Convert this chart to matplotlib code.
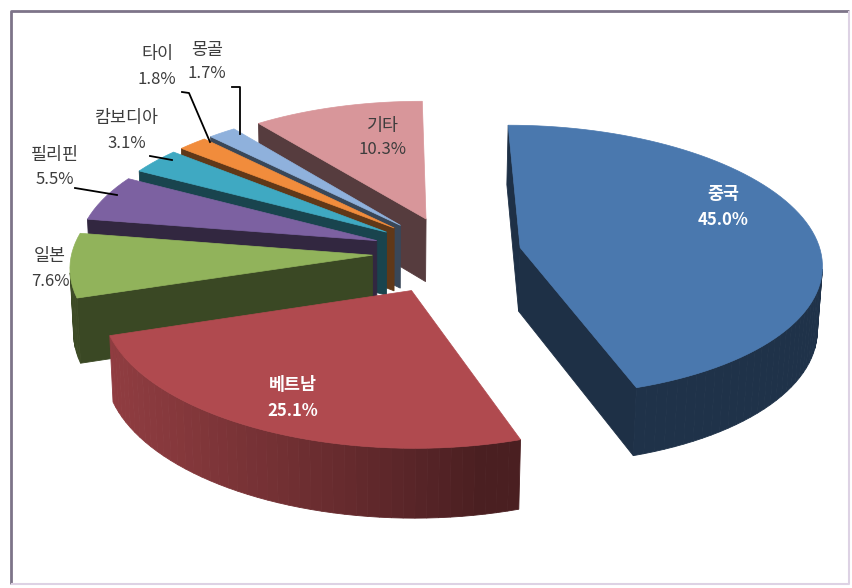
import numpy as np
import matplotlib.pyplot as plt
from matplotlib.patches import Polygon
from matplotlib.colors import to_rgb

plt.rcParams['font.family'] = ['Noto Sans CJK KR', 'DejaVu Sans']

countries = ['중국', '베트남', '일본', '필리핀', '캄보디아', '타이', '몽골', '기타']
shares = [45.0, 25.1, 7.6, 5.5, 3.1, 1.8, 1.7, 10.3]
top_colors = ['#4a78ae', '#b04a4f', '#91b35b', '#7c61a1', '#3fa9c2', '#f18c3c', '#8fb1dc', '#d8969a']
explode = [0.229, 0.308, 0.268, 0.268, 0.268, 0.268, 0.268, 0.268]
wall_gain = [0.0, 0.4, 0.0, 0.0, 0.0, 0.0, 0.0, 0.0]

# label centres (pixels): name line, value line
label_pos = {
    '중국': (723, 194, 220), '베트남': (293, 385, 411), '일본': (50, 256, 281),
    '필리핀': (55, 155, 180), '캄보디아': (127, 118, 143), '타이': (157, 54, 79),
    '몽골': (207, 50, 74), '기타': (383, 126, 150),
}
leaders = {
    '필리핀': [(75, 188), (117, 195)],
    '캄보디아': [(150, 156), (172, 160)],
    '타이': [(182, 92), (189, 93), (210, 142)],
    '몽골': [(232, 87), (240, 87), (240, 134)],
}

# camera / solid settings
ELEV = np.radians(26.7)
DIST = 9.38
FOCAL = 2818
CX, CY = 381.8, 252.5
CAMX = -0.236
THICK = 0.24
cam = np.array([CAMX, -DIST * np.cos(ELEV), DIST * np.sin(ELEV)])


def project(x, y, z):
    depth = DIST + y * np.cos(ELEV) - z * np.sin(ELEV)
    sx = CX + FOCAL * (x - CAMX) / depth
    sy = CY - FOCAL * (y * np.sin(ELEV) + z * np.cos(ELEV)) / depth
    return sx, sy


def shade(color, k):
    r, g, b = to_rgb(color)
    return (min(r * k, 1), min(g * k, 1), min(b * k, 1))


def facing(p, n):
    return np.dot(cam - p, n) > 0


fig = plt.figure(figsize=(8.53, 5.88), dpi=100)
ax = fig.add_axes([0, 0, 1, 1])
ax.set_xlim(0, 853)
ax.set_ylim(588, 0)
ax.axis('off')

total = sum(shares)
bounds = np.concatenate([[0], np.cumsum(shares)]) / total * 2 * np.pi
light = np.array([-1.0, -0.2]) / np.hypot(1.0, 0.2)

slices = []
for i in range(len(shares)):
    a0, a1 = bounds[i], bounds[i + 1]
    mid = (a0 + a1) / 2
    slices.append((explode[i] * np.cos(mid), i, a0, a1, mid))

# far slices first
for oy_, i, a0, a1, mid in sorted(slices, reverse=True):
    ox, oy = explode[i] * np.sin(mid), explode[i] * np.cos(mid)
    col = top_colors[i]
    th = np.linspace(a0, a1, max(int(np.degrees(a1 - a0) / 2), 2) + 1)
    rx = ox + np.sin(th)
    ry = oy + np.cos(th)

    faces = []
    # radial faces
    for ang, n in [(a0, np.array([-np.cos(a0), np.sin(a0), 0])),
                   (a1, np.array([np.cos(a1), -np.sin(a1), 0]))]:
        ex, ey = ox + np.sin(ang), oy + np.cos(ang)
        p = np.array([(ox + ex) / 2, (oy + ey) / 2, -THICK / 2])
        if facing(p, n):
            pts = [project(ox, oy, 0), project(ex, ey, 0),
                   project(ex, ey, -THICK), project(ox, oy, -THICK)]
            faces.append((pts, shade(col, 0.40)))
    # outer wall
    for j in range(len(th) - 1):
        tm = (th[j] + th[j + 1]) / 2
        n = np.array([np.sin(tm), np.cos(tm), 0])
        p = np.array([ox + np.sin(tm), oy + np.cos(tm), -THICK / 2])
        if facing(p, n):
            d = max(0.0, n[0] * light[0] + n[1] * light[1])
            pts = [project(rx[j], ry[j], 0), project(rx[j + 1], ry[j + 1], 0),
                   project(rx[j + 1], ry[j + 1], -THICK), project(rx[j], ry[j], -THICK)]
            faces.append((pts, shade(col, 0.42 + wall_gain[i] * d)))
    for pts, c in faces:
        ax.add_patch(Polygon(pts, closed=True, facecolor=c, edgecolor=c, lw=0.6))

    top = [project(ox, oy, 0)] + [project(x, y, 0) for x, y in zip(rx, ry)]
    ax.add_patch(Polygon(top, closed=True, facecolor=col, edgecolor=col, lw=0.5))

# data labels
for i, name in enumerate(countries):
    x, y1, y2 = label_pos[name]
    inside = i < 2
    color = 'white' if inside else '#3c3c3c'
    weight = 'bold' if inside else 'normal'
    ax.text(x, y1, name, ha='center', va='center', fontsize=12.5,
            color=color, fontweight=weight)
    ax.text(x, y2, f'{shares[i]:.1f}%', ha='center', va='center', fontsize=12,
            color=color, fontweight=weight)

for name, pts in leaders.items():
    xs, ys = zip(*pts)
    ax.plot(xs, ys, color='black', lw=1.3)

# chart border
ax.plot([11, 11, 849], [584, 11, 11], color='#7d7489', lw=2, solid_capstyle='butt')
ax.plot([849, 849, 11], [11, 584, 584], color='#ddd2e4', lw=1.5, solid_capstyle='butt')

fig.savefig('out.png', dpi=100, facecolor='white')
